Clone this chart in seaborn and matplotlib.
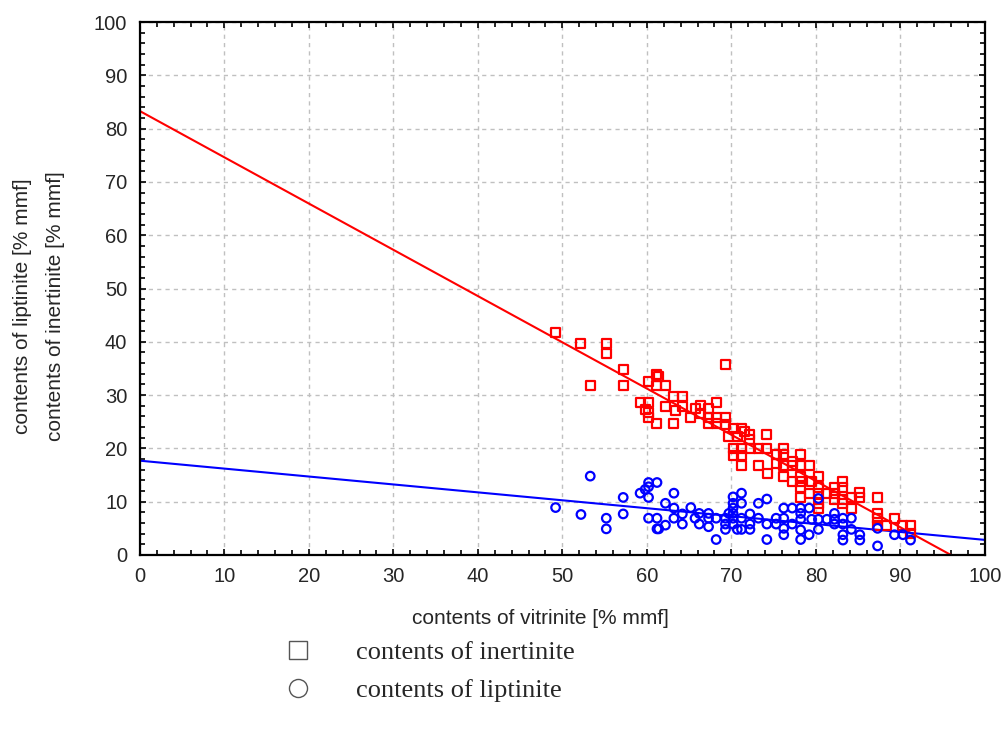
import pandas as pd
import matplotlib.pyplot as plt
import seaborn as sns
from matplotlib.lines import Line2D
from matplotlib.ticker import MultipleLocator

# vitrinite vs inertinite (red squares)
inert_x = [49.2, 52.2, 53.3, 55.2, 55.2, 57.2, 57.2, 59.2, 59.8, 60.2, 60.2, 60.2, 60.2,
           61.2, 61.4, 61.2, 61.2, 62.2, 62.2, 63.2, 63.4, 63.2, 64.2, 64.2, 65.2, 65.7,
           66.3, 66.3, 67.3, 67.3, 67.3, 68.2, 68.2, 68.2, 69.3, 69.3, 69.3, 69.7, 70.2,
           70.2, 70.2, 70.7, 71.2, 71.5, 71.2, 71.2, 71.2, 72.2, 72.2, 72.3, 73.2, 73.2,
           74.2, 74.2, 74.3, 75.3, 75.3, 76.2, 76.2, 76.2, 76.2, 77.2, 77.2, 77.2, 78.2, 78.2,
           78.2, 78.2, 78.2, 78.2, 79.2, 79.2, 79.5, 80.3, 80.3, 80.3, 80.3, 80.3, 81.3,
           82.2, 82.2, 82.2, 83.2, 83.2, 83.2, 83.2, 84.2, 84.2, 85.2, 85.2, 87.3, 87.3,
           87.3, 87.3, 88.3, 89.3, 90.3, 91.2, 91.2]
inert_y = [41.7, 39.7, 31.8, 39.7, 37.8, 34.9, 31.8, 28.7, 27.3, 32.6, 28.7, 26.8, 25.8,
           33.9, 33.5, 31.8, 24.6, 31.8, 27.9, 29.8, 27.1, 24.7, 29.8, 27.8, 25.8, 27.4,
           28.0, 26.6, 27.4, 25.8, 24.7, 28.7, 25.8, 24.7, 35.8, 25.8, 24.4, 22.2, 23.8,
           20.0, 18.6, 22.2, 23.8, 23.1, 20.0, 18.6, 16.7, 22.7, 21.7, 20.0, 20.0, 16.7,
           22.6, 20.0, 15.2, 18.8, 17.2, 20.0, 18.8, 16.8, 14.8, 17.6, 16.8, 13.8, 18.8, 16.8,
           14.8, 13.8, 12.7, 10.8, 16.8, 11.6, 13.8, 14.8, 12.7, 11.6, 9.7, 8.8, 11.6,
           12.7, 11.6, 10.5, 13.8, 12.7, 10.5, 9.6, 10.8, 8.8, 11.7, 10.8, 10.8, 7.8,
           6.8, 5.6, 5.6, 6.8, 5.6, 5.6, 4.1]

# vitrinite vs liptinite (blue circles)
lipt_x = [49.2, 52.2, 53.3, 55.2, 55.2, 57.2, 57.2, 59.2, 59.8, 60.2, 60.2, 60.2, 60.2,
          61.2, 61.2, 61.2, 61.4, 62.2, 62.2, 63.2, 63.2, 63.2, 64.2, 64.2, 65.2, 65.7,
          66.2, 66.2, 67.3, 67.3, 67.3, 68.2, 68.2, 69.3, 69.3, 69.3, 69.7, 70.2, 70.2,
          70.2, 70.2, 70.2, 70.2, 70.7, 71.2, 71.2, 71.2, 71.2, 72.2, 72.2, 72.2, 73.2,
          73.2, 74.2, 74.2, 74.2, 75.3, 75.3, 76.2, 76.2, 76.2, 76.2, 77.2, 77.2, 78.2,
          78.2, 78.2, 78.2, 78.2, 79.2, 79.2, 79.5, 80.3, 80.3, 80.3, 81.3, 82.2, 82.2,
          82.2, 83.2, 83.2, 83.2, 83.2, 84.2, 84.2, 85.2, 85.2, 87.3, 87.3, 89.3, 90.3, 91.2]
lipt_y = [8.9, 7.6, 14.8, 6.9, 4.9, 10.8, 7.7, 11.6, 12.3, 13.6, 12.8, 10.8, 6.9,
          13.6, 6.9, 4.9, 4.9, 9.7, 5.6, 11.6, 8.8, 6.9, 7.7, 5.8, 8.9, 6.9,
          7.8, 5.8, 7.8, 6.9, 5.3, 6.9, 2.9, 6.9, 5.8, 4.8, 7.8, 10.9, 9.7,
          8.8, 7.8, 6.9, 5.8, 4.8, 11.6, 9.7, 6.9, 4.8, 7.7, 5.8, 4.8, 9.7,
          6.9, 10.5, 5.8, 2.9, 6.9, 5.8, 8.8, 6.9, 5.0, 3.8, 8.8, 5.8, 8.8,
          7.8, 6.7, 4.7, 2.9, 8.8, 3.8, 6.7, 10.6, 6.7, 4.8, 6.7, 7.8, 6.7,
          5.8, 6.9, 5.8, 3.8, 2.8, 6.9, 4.8, 3.8, 2.8, 5.0, 1.7, 3.8, 3.8, 2.8]

inert = pd.DataFrame({'vitrinite': inert_x, 'value': inert_y})
lipt = pd.DataFrame({'vitrinite': lipt_x, 'value': lipt_y})

sns.set_style("ticks")
plt.rcParams['font.family'] = ['Liberation Sans', 'DejaVu Sans']

fig = plt.figure(figsize=(10.06, 7.38), dpi=100)
ax = fig.add_axes([0.139, 0.248, 0.840, 0.722])
ax.set_xlim(0, 100)
ax.set_ylim(0, 100)

ax.grid(True, which='major', color='#c0c0c0', linestyle=(0, (3, 3)), linewidth=1)
ax.set_axisbelow(True)

sns.scatterplot(data=inert, x='vitrinite', y='value', marker='s', s=42,
                facecolors='none', edgecolors='red', linewidth=1.6, ax=ax, zorder=3)
sns.scatterplot(data=lipt, x='vitrinite', y='value', marker='o', s=38,
                facecolors='none', edgecolors='blue', linewidth=1.6, ax=ax, zorder=3)

sns.regplot(data=inert, x='vitrinite', y='value', scatter=False, ci=None,
            truncate=False, color='red', line_kws={'linewidth': 1.5}, ax=ax)
sns.regplot(data=lipt, x='vitrinite', y='value', scatter=False, ci=None,
            truncate=False, color='blue', line_kws={'linewidth': 1.5}, ax=ax)

ax.set_xlim(0, 100)
ax.set_ylim(0, 100)
ax.xaxis.set_major_locator(MultipleLocator(10))
ax.yaxis.set_major_locator(MultipleLocator(10))
ax.xaxis.set_minor_locator(MultipleLocator(2))
ax.yaxis.set_minor_locator(MultipleLocator(2))
ax.tick_params(which='both', direction='in', top=True, right=True, labelsize=14.5,
               color='black', pad=9)
ax.tick_params(which='major', length=4, width=1.2)
ax.tick_params(which='minor', length=3.5, width=1.2)
for sp in ax.spines.values():
    sp.set_visible(True)
    sp.set_color('black')
    sp.set_linewidth(1.6)

ax.set_xlabel('')
ax.set_ylabel('')
fig.text(0.537, 0.162, 'contents of vitrinite [% mmf]', ha='center', va='center', fontsize=15)
fig.text(0.022, 0.585, 'contents of liptinite [% mmf]', ha='center', va='center',
         rotation=90, fontsize=15)
fig.text(0.055, 0.585, 'contents of inertinite [% mmf]', ha='center', va='center',
         rotation=90, fontsize=15)

handles = [Line2D([], [], marker='s', linestyle='none', markersize=13, markerfacecolor='none',
                  markeredgecolor='#555555', markeredgewidth=1),
           Line2D([], [], marker='o', linestyle='none', markersize=13, markerfacecolor='none',
                  markeredgecolor='#555555', markeredgewidth=1)]
fig.legend(handles, ['contents of inertinite', 'contents of liptinite'],
           loc='upper left', bbox_to_anchor=(0.257, 0.1495), frameon=False,
           prop={'family': 'Liberation Serif', 'size': 19},
           handlelength=2.0, handletextpad=1.2, labelspacing=0.53, borderpad=0)

fig.savefig('out.png', dpi=100)
